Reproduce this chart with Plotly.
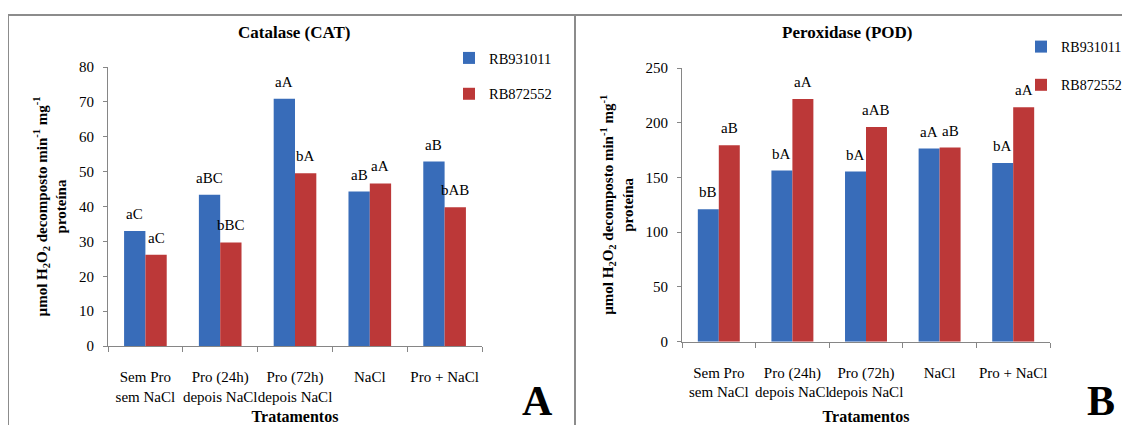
import plotly.graph_objects as go

# page body has an 8px default margin; the figure fills the rest of the 1130x425 window
OFF = 8
W, H = 1130 - OFF, 425 - OFF

categories = ["Sem Pro<br>sem NaCl", "Pro (24h)<br>depois NaCl", "Pro (72h)<br>depois NaCl", "NaCl", "Pro + NaCl"]
series_names = ["RB931011", "RB872552"]

cat_rb931011 = [33.0, 43.4, 70.9, 44.3, 52.9]
cat_rb872552 = [26.2, 29.7, 49.5, 46.6, 39.8]
cat_lbl_rb931011 = ["aC", "aBC", "aA", "aB", "aB"]
cat_lbl_rb872552 = ["aC", "bBC", "bA", "aA", "bAB"]

pod_rb931011 = [121.0, 156.3, 155.4, 176.4, 163.3]
pod_rb872552 = [179.5, 221.6, 196.0, 177.3, 214.2]
pod_lbl_rb931011 = ["bB", "bA", "bA", "aA", "bA"]
pod_lbl_rb872552 = ["aB", "aA", "aAB", "aB", "aA"]

BLUE = "#386cb9"
RED = "#bc3838"
AXC = "#868686"
FONT = "Liberation Serif, Times New Roman, serif"
BARGAP = 0.43

def px_x(p):
    return (p - OFF) / W

def px_y(p):
    return 1 - (p - OFF) / H

dom_x1 = [px_x(108), px_x(482)]
dom_y1 = [px_y(346), px_y(67)]
dom_x2 = [px_x(682), px_x(1050)]
dom_y2 = [px_y(341.7), px_y(68)]

fig = go.Figure()

panels = [
    ("x", "y", "legend", cat_rb931011, cat_rb872552, cat_lbl_rb931011, cat_lbl_rb872552, dom_x1),
    ("x2", "y2", "legend2", pod_rb931011, pod_rb872552, pod_lbl_rb931011, pod_lbl_rb872552, dom_x2),
]

annotations = []
for xa, ya, lg, v1, v2, l1, l2, dom in panels:
    for name, vals, col in [(series_names[0], v1, BLUE), (series_names[1], v2, RED)]:
        fig.add_trace(go.Bar(
            x=categories, y=vals, name=name, marker=dict(color=col, line=dict(width=0)),
            xaxis=xa, yaxis=ya, legend=lg, legendgroup=name + lg,
        ))
    cat_w = (dom[1] - dom[0]) * W / len(categories)
    off = cat_w * (1 - BARGAP) / 4
    for vals, lbls, sgn in [(v1, l1, -1), (v2, l2, 1)]:
        for c, v, t in zip(categories, vals, lbls):
            annotations.append(dict(
                x=c, y=v, xref=xa, yref=ya, text=t, showarrow=False,
                xshift=sgn * off, yshift=17, yanchor="middle", xanchor="center",
                font=dict(family=FONT, size=15, color="black"),
            ))

ytitle = ("<b>µmol H<sub>2</sub>O<sub>2</sub> decomposto min<sup>-1</sup> mg<sup>-1</sup>"
          "<br>proteína</b>")

def xaxis_cfg(dom, anchor):
    return dict(
        domain=dom, anchor=anchor, type="category", automargin=False,
        showline=True, linecolor=AXC, linewidth=1,
        ticks="outside", tickson="boundaries", ticklen=5, tickcolor=AXC,
        ticklabelstandoff=17, tickangle=0,
        tickfont=dict(family=FONT, size=15, color="black"),
        showgrid=False, zeroline=False,
        title=dict(text="<b>Tratamentos</b>", standoff=12,
                   font=dict(family=FONT, size=16, color="black")),
    )

def yaxis_cfg(dom, anchor, rng, dtick):
    return dict(
        domain=dom, anchor=anchor, range=rng, dtick=dtick, automargin=False,
        showline=True, linecolor=AXC, linewidth=1,
        ticks="outside", ticklen=4, tickcolor=AXC,
        ticklabelstandoff=6,
        tickfont=dict(family=FONT, size=15, color="black"),
        showgrid=False, zeroline=False,
        title=dict(text=ytitle, standoff=8,
                   font=dict(family=FONT, size=15, color="black")),
    )

def paper_text(x, y, text, size):
    return dict(x=px_x(x), y=px_y(y), xref="paper", yref="paper", text=text,
                xanchor="center", yanchor="middle", showarrow=False,
                font=dict(family=FONT, size=size, color="black"))

annotations += [
    paper_text(294, 33, "<b>Catalase (CAT)</b>", 17),
    paper_text(847, 33, "<b>Peroxidase (POD)</b>", 17),
    paper_text(537, 401, "<b>A</b>", 42),
    paper_text(1101, 401, "<b>B</b>", 42),
]

shapes = [
    dict(type="rect", xref="paper", yref="paper", x0=px_x(8), x1=px_x(575), y0=px_y(440), y1=px_y(15),
         line=dict(color="#8c8c8c", width=2), fillcolor="rgba(0,0,0,0)"),
    dict(type="rect", xref="paper", yref="paper", x0=px_x(575), x1=px_x(1140), y0=px_y(440), y1=px_y(15),
         line=dict(color="#8c8c8c", width=2), fillcolor="rgba(0,0,0,0)"),
]

legend_common = dict(xanchor="left", yanchor="top", bgcolor="rgba(0,0,0,0)",
                     traceorder="grouped", itemwidth=30)

fig.update_layout(
    width=W, height=H, margin=dict(l=0, r=0, t=0, b=0, autoexpand=False),
    paper_bgcolor="white", plot_bgcolor="white",
    barmode="group", bargap=BARGAP, bargroupgap=0,
    xaxis=xaxis_cfg(dom_x1, "y"),
    yaxis=yaxis_cfg(dom_y1, "x", [0, 80], 10),
    xaxis2=xaxis_cfg(dom_x2, "y2"),
    yaxis2=yaxis_cfg(dom_y2, "x2", [0, 250], 50),
    legend=dict(x=px_x(449), y=px_y(42), tracegroupgap=14,
                font=dict(family=FONT, size=14.5, color="black"), **legend_common),
    legend2=dict(x=px_x(1021), y=px_y(31), tracegroupgap=17,
                 font=dict(family=FONT, size=14, color="black"), **legend_common),
    annotations=annotations, shapes=shapes,
    showlegend=True,
)

fig.write_html("out.html")
